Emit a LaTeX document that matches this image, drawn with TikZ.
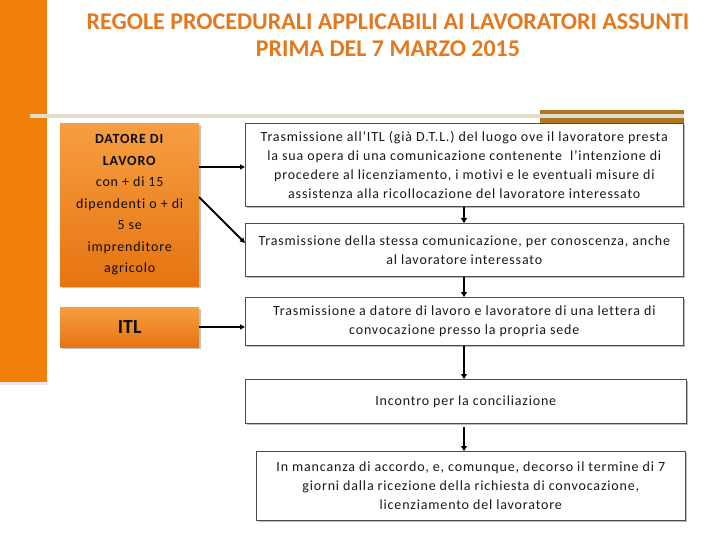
\documentclass[tikz,border=0pt]{standalone}
\usepackage{fontspec}
\setmainfont{Carlito}[Ligatures=NoCommon]
\newfontfamily\spaced{Carlito}[LetterSpace=6,Ligatures=NoCommon]
\usetikzlibrary{arrows.meta,shadows}
\definecolor{barorange}{RGB}{240,128,10}
\definecolor{titleorange}{RGB}{228,120,30}
\definecolor{boxtop}{RGB}{246,158,66}
\definecolor{boxbot}{RGB}{230,116,16}
\definecolor{brownbar}{RGB}{176,118,36}
\definecolor{beige}{RGB}{226,220,205}
\pgfdeclarehorizontalshading{bevel}{100bp}{color(0bp)=(black!25); color(8bp)=(white); color(95bp)=(white); color(100bp)=(black!14)}
\tikzset{
  wbox/.style={draw=black!70, line width=0.6pt, shading=bevel,
    drop shadow={shadow xshift=2pt, shadow yshift=-2pt, fill=black!45, opacity=0.6},
    anchor=north west, align=center, inner sep=2pt, font=\fontsize{14}{19}\spaced, text=black!90},
  obox/.style={shading=axis, top color=boxtop, bottom color=boxbot, draw=none,
    drop shadow={shadow xshift=2pt, shadow yshift=-2pt, fill=black!40, opacity=0.6},
    anchor=north west, align=center, text=black!95},
  harrow/.style={-{Triangle[length=5pt,width=5pt]}, line width=1.8pt, black},
  varrow/.style={-{Triangle[length=5pt,width=6pt]}, line width=2.6pt, black}
}
\begin{document}
\begin{tikzpicture}[x=1pt,y=-1pt]
\useasboundingbox (0,0) rectangle (720,540);
% decorations
\fill[beige!60] (0,380) rectangle (48,385);
\fill[barorange] (0,0) rectangle (47,382);
\fill[beige] (30,114) rectangle (684,118);
\fill[brownbar] (540,110) rectangle (684,114);
\fill[brownbar] (540,118) rectangle (684,123);
% title
\node[font=\fontsize{24}{27}\selectfont\bfseries, text=titleorange, align=center, inner sep=0pt] (title) at (388,35)
  {REGOLE PROCEDURALI APPLICABILI AI LAVORATORI ASSUNTI\\PRIMA DEL 7 MARZO 2015};
% left boxes
\node[obox, minimum width=139pt, minimum height=163pt, font=\fontsize{14}{21.5}\spaced] (dat) at (60,123)
  {\textbf{DATORE DI}\\\textbf{LAVORO}\\con + di 15\\dipendenti o + di\\5 se\\imprenditore\\agricolo};
\node[obox, minimum width=139pt, minimum height=40pt, font=\fontsize{20}{22}\selectfont\bfseries] (itl) at (60,307) {ITL};
% right boxes
\node[wbox, minimum width=438pt, minimum height=83pt] (b1) at (245,123)
  {Trasmissione all’ITL (già D.T.L.) del luogo ove il lavoratore presta\\la sua opera di una comunicazione contenente\ \ l’intenzione di\\procedere al licenziamento, i motivi e le eventuali misure di\\assistenza alla ricollocazione del lavoratore interessato};
\node[wbox, minimum width=438pt, minimum height=53pt] (b2) at (245,223)
  {Trasmissione della stessa comunicazione, per conoscenza, anche\\al lavoratore interessato};
\node[wbox, minimum width=438pt, minimum height=48pt] (b3) at (245,297)
  {Trasmissione a datore di lavoro e lavoratore di una lettera di\\convocazione presso la propria sede};
\node[wbox, minimum width=441pt, minimum height=44pt] (b4) at (245,379)
  {Incontro per la conciliazione};
\node[wbox, minimum width=429pt, minimum height=69pt] (b5) at (256,451)
  {In mancanza di accordo, e, comunque, decorso il termine di 7\\giorni dalla ricezione della richiesta di convocazione,\\licenziamento del lavoratore};
% connectors
\coordinate (d1) at (199,167);
\coordinate (d2) at (199,197);
\coordinate (i1) at (199,327);
\draw[harrow] (d1) -- (b1.west |- d1);
\draw[harrow] (d2) -- (245,243);
\draw[harrow] (i1) -- (b3.west |- i1);
\draw[varrow] (b1.south -| 464,0) -- (b2.north -| 464,0);
\draw[varrow] (b2.south -| 464,0) -- (b3.north -| 464,0);
\draw[varrow] (b3.south -| 464,0) -- (b4.north -| 464,0);
\draw[varrow] (464,427) -- (b5.north -| 464,0);
\end{tikzpicture}
\end{document}
